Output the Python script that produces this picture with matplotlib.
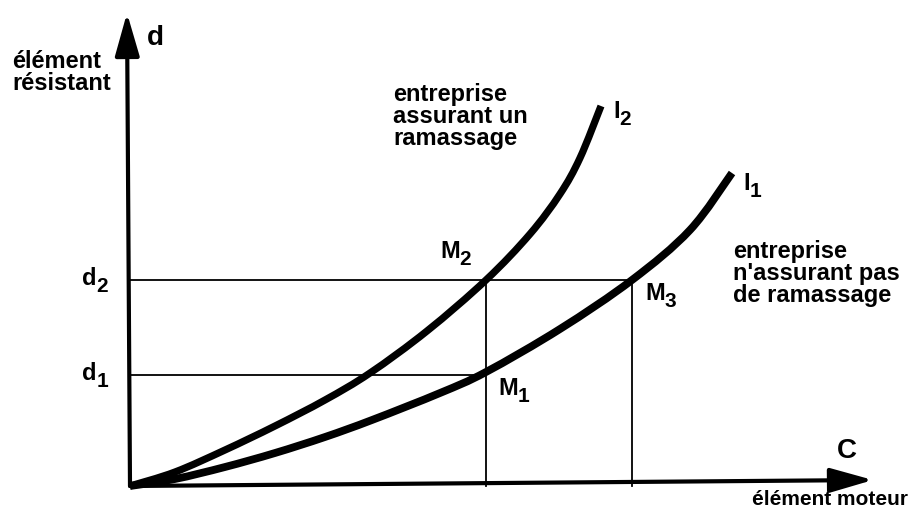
import matplotlib
matplotlib.use("Agg")
import numpy as np
import matplotlib.pyplot as plt
from matplotlib.path import Path
from matplotlib.patches import PathPatch

plt.rcParams['font.family'] = ['Liberation Sans', 'DejaVu Sans']
plt.rcParams['font.weight'] = 'bold'

# curves (C = élément moteur, d = élément résistant)
c_i2 = [0, 45, 95, 145, 195, 240, 297, 356, 400, 430, 450, 471]
d_i2 = [0, 14, 36, 60, 86, 113, 155, 206, 252, 292, 328, 380]
c_i1 = [0, 45, 95, 145, 195, 242, 310, 356, 430, 502, 560, 602]
d_i1 = [0, 7, 19, 33, 49, 66, 93, 114, 157, 206, 256, 313]

d_levels = [111, 206]          # d1, d2
c_levels = [356, 502]          # M1/M2, M3

x_axis_end = (743, 6)
y_axis_end = (-3, 473)


def smooth_path(xs, ys):
    """Catmull-Rom through the read points, drawn as cubic Bezier segments."""
    p = np.column_stack([xs, ys]).astype(float)
    p = np.vstack([p[0], p, p[-1]])
    verts = [p[1]]
    codes = [Path.MOVETO]
    for i in range(1, len(p) - 2):
        c1 = p[i] + (p[i + 1] - p[i - 1]) / 6
        c2 = p[i + 1] - (p[i + 2] - p[i]) / 6
        verts += [c1, c2, p[i + 1]]
        codes += [Path.CURVE4] * 3
    return Path(verts, codes)


def sub_label(ax, x, y, base, sub, fs=17, dx=0, dy=-4):
    t = ax.text(x, y, base, fontsize=fs, fontweight='bold', va='baseline')
    ax.annotate(sub, xy=(1, 0), xycoords=t, xytext=(dx, dy), textcoords='offset points',
                fontsize=fs - 2, fontweight='bold', va='bottom')


fig = plt.figure(figsize=(9.11, 5.14), dpi=100)
ax = fig.add_axes([0, 0, 1, 1])
ax.set_xlim(-130, 781)
ax.set_ylim(-28, 486)
ax.axis('off')

# guide lines
ax.plot([0, c_levels[0]], [d_levels[0]] * 2, color='black', lw=1.3)
ax.plot([0, c_levels[1]], [d_levels[1]] * 2, color='black', lw=1.3)
for c in c_levels:
    ax.plot([c, c], [0, d_levels[1]], color='black', lw=1.3)

# curves
ax.add_patch(PathPatch(smooth_path(c_i2, d_i2), fill=False, lw=5.2, capstyle='butt',
                       edgecolor='black'))
ax.add_patch(PathPatch(smooth_path(c_i1, d_i1), fill=False, lw=5.6, capstyle='butt',
                       edgecolor='black'))

# axes with arrows
arrow = dict(arrowstyle='-|>,head_length=1.05,head_width=0.3', lw=3, color='black',
             shrinkA=0, shrinkB=0, mutation_scale=25)
ax.annotate('', xy=x_axis_end, xytext=(0, 0), arrowprops=arrow)
ax.annotate('', xy=y_axis_end, xytext=(0, 0), arrowprops=arrow)

fs = 17
ax.text(17, 441, 'd', fontsize=20, fontweight='bold', va='baseline')
ax.text(707, 28, 'C', fontsize=20, fontweight='bold', va='baseline')
ax.text(-118, 436, 'élément\nrésistant', fontsize=fs, fontweight='bold', va='top',
        linespacing=0.95)
ax.text(778, -19, 'élément moteur', fontsize=15, fontweight='bold', ha='right', va='baseline')
ax.text(263, 403, 'entreprise\nassurant un\nramassage', fontsize=fs, fontweight='bold',
        va='top', linespacing=0.95)
ax.text(603, 246, "entreprise\nn'assurant pas\nde ramassage", fontsize=fs, fontweight='bold',
        va='top', linespacing=0.95)

sub_label(ax, -48, d_levels[0] - 5, 'd', '1')
sub_label(ax, -48, d_levels[1] - 5, 'd', '2')
sub_label(ax, 483, 368, 'I', '2')
sub_label(ax, 613, 296, 'I', '1')
sub_label(ax, 310, 228, 'M', '2')
sub_label(ax, 515, 186, 'M', '3')
sub_label(ax, 368, 91, 'M', '1')

fig.savefig('out.png', dpi=100)
